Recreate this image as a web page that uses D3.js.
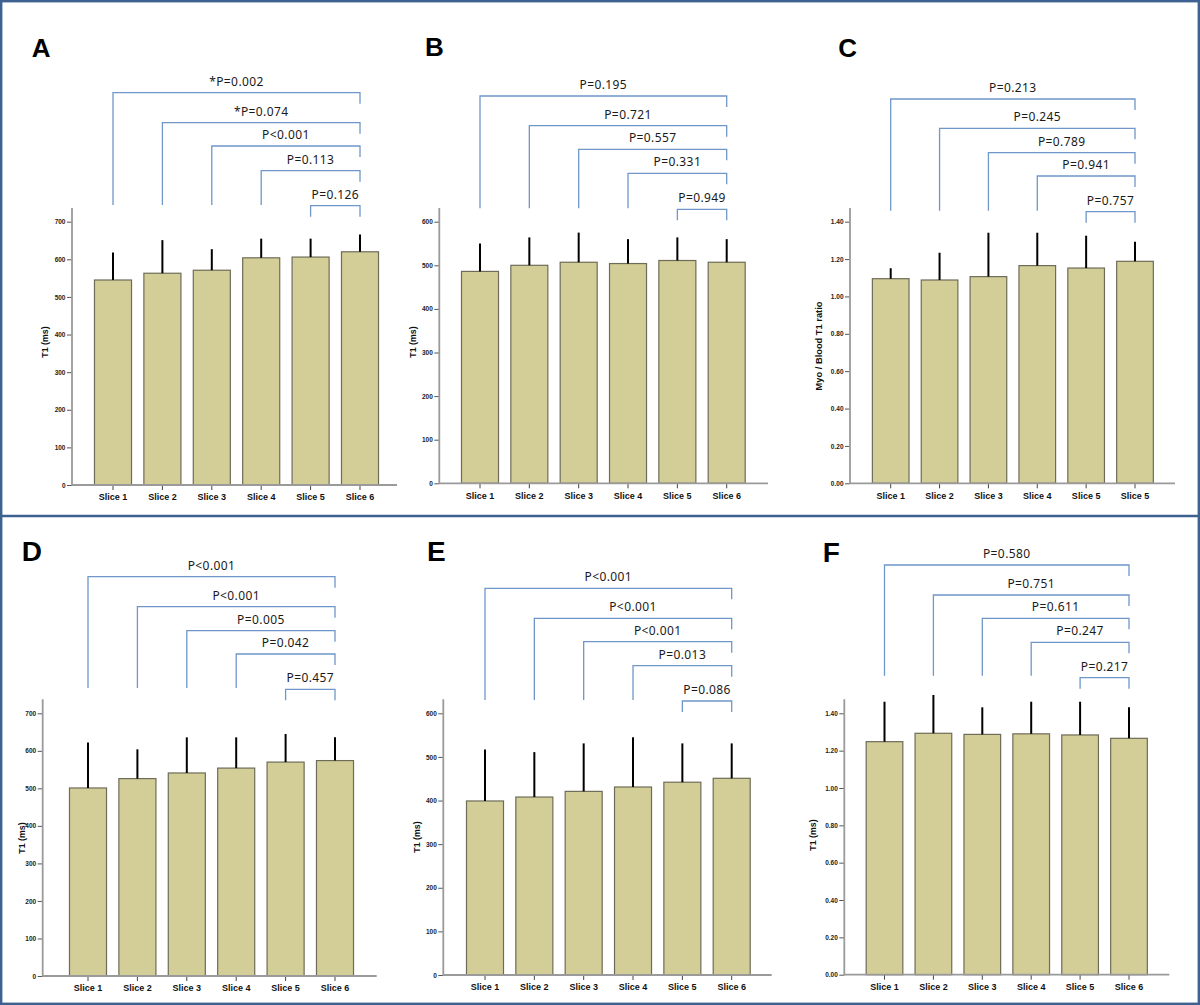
<!DOCTYPE html>
<html><head><meta charset="utf-8">
<script src="https://cdn.jsdelivr.net/npm/d3@7"></script>
<style>body{margin:0;background:#fff}</style>
</head><body>
<svg id="chart" width="1200" height="1005"></svg>
<script>
// ---------- data ----------
const slices  = ["Slice 1","Slice 2","Slice 3","Slice 4","Slice 5","Slice 6"];
const slicesC = ["Slice 1","Slice 2","Slice 3","Slice 4","Slice 5","Slice 5"];

const meanA = [545, 563, 571, 604, 606, 620];
const errA  = [73, 88, 56, 51, 49, 46];
const meanB = [486, 500, 507, 504, 511, 507];
const errB  = [64, 64, 68, 56, 53, 53];
const meanC = [1.095, 1.088, 1.106, 1.165, 1.152, 1.188];
const errC  = [0.056, 0.146, 0.235, 0.176, 0.173, 0.105];
const meanD = [501, 526, 541, 554, 570, 574];
const errD  = [121, 78, 95, 82, 75, 62];
const meanE = [399, 408, 421, 431, 442, 451];
const errE  = [118, 103, 110, 114, 89, 80];
const meanF = [1.248, 1.293, 1.287, 1.290, 1.284, 1.266];
const errF  = [0.214, 0.205, 0.145, 0.172, 0.178, 0.166];

const pA = ["*P=0.002","*P=0.074","P<0.001","P=0.113","P=0.126"];
const pB = ["P=0.195","P=0.721","P=0.557","P=0.331","P=0.949"];
const pC = ["P=0.213","P=0.245","P=0.789","P=0.941","P=0.757"];
const pD = ["P<0.001","P<0.001","P=0.005","P=0.042","P=0.457"];
const pE = ["P<0.001","P<0.001","P<0.001","P=0.013","P=0.086"];
const pF = ["P=0.580","P=0.751","P=0.611","P=0.247","P=0.217"];
const pairs = [[0,5],[1,5],[2,5],[3,5],[4,5]];

const ticks700   = [0,100,200,300,400,500,600,700];
const ticks600   = [0,100,200,300,400,500,600];
const ticksRatio = [0,0.2,0.4,0.6,0.8,1.0,1.2,1.4];

// ---------- layout (pixel geometry, separate from data) ----------
const fmtInt = d3.format("d"), fmtRatio = d3.format(".2f");
const panels = [
 {letter:"A", labels:slices,  mean:meanA, err:errA, p:pA, ticks:ticks700,   fmt:fmtInt,   title:"T1 (ms)",
  lx:31.7, ly:56.7, ls:26, ax:72,    xEnd:397,    y0:485,   yTop:221.7, axisTop:208,   c0:113,   c5:360,  tx:45,    ty:342,
  br:[92.7,122.7,146,170.7,205.7], leftEnd:205},
 {letter:"B", labels:slices,  mean:meanB, err:errB, p:pB, ticks:ticks600,   fmt:fmtInt,   title:"T1 (ms)",
  lx:425,  ly:56,   ls:26, ax:439.3, xEnd:768,    y0:483.3, yTop:221.7, axisTop:208,   c0:480,   c5:726.7, tx:412.7, ty:342,
  br:[96,125.7,149.3,173.3,209.3], leftEnd:208.3},
 {letter:"C", labels:slicesC, mean:meanC, err:errC, p:pC, ticks:ticksRatio, fmt:fmtRatio, title:"Myo / Blood T1 ratio",
  lx:838.3,ly:56.7, ls:26, ax:850,   xEnd:1175,   y0:483.3, yTop:221.7, axisTop:208,   c0:890.7, c5:1135, tx:819,   ty:346,
  br:[99,128.3,152.7,176,211.7], leftEnd:210.7},
 {letter:"D", labels:slices,  mean:meanD, err:errD, p:pD, ticks:ticks700,   fmt:fmtInt,   title:"T1 (ms)",
  lx:21.7, ly:561,  ls:28, ax:42.7,  xEnd:376.7,  y0:976,   yTop:713.3, axisTop:699.3, c0:88,    c5:335,  tx:21.7,  ty:838,
  br:[576.7,606.7,630.7,654,689.3], leftEnd:688},
 {letter:"E", labels:slices,  mean:meanE, err:errE, p:pE, ticks:ticks600,   fmt:fmtInt,   title:"T1 (ms)",
  lx:427,  ly:561,  ls:28, ax:443.3, xEnd:771.7,  y0:975,   yTop:713.3, axisTop:699.3, c0:485,   c5:731.7, tx:416.7, ty:837,
  br:[588.3,618.3,641.7,665.7,701], leftEnd:700},
 {letter:"F", labels:slices,  mean:meanF, err:errF, p:pF, ticks:ticksRatio, fmt:fmtRatio, title:"T1 (ms)",
  lx:822.7,ly:562.3,ls:28, ax:844.3, xEnd:1169.3, y0:974.7, yTop:713.3, axisTop:699.3, c0:884.5, c5:1129, tx:813.3, ty:835,
  br:[565,595,618.3,642.3,677.7], leftEnd:675.7}
];

const BAR_FILL = "#d3ce97", BAR_STROKE = "#6e6c58", AXIS = "#9a9a9a",
      BRACKET = "#6f97c9", FRAME = "#3d6190";
const SANS = "'Liberation Sans', Arial, sans-serif";

const svg = d3.select("#chart");
svg.append("rect").attr("width",1200).attr("height",1005).attr("fill","#fff");

panels.forEach(P => {
  const g = svg.append("g");
  const n = P.mean.length;
  const step = (P.c5 - P.c0) / (n - 1);
  const x = d3.scaleBand().domain(d3.range(n))
      .range([P.c0 - step/2, P.c5 + step/2]).paddingInner(0.25).paddingOuter(0.125);
  const y = d3.scaleLinear().domain([0, d3.max(P.ticks)]).range([P.y0, P.yTop]);
  const cx = i => x(i) + x.bandwidth()/2;

  // panel letter
  g.append("text").attr("x",P.lx).attr("y",P.ly).text(P.letter)
    .attr("font-family",SANS).attr("font-weight","bold").attr("font-size",P.ls).attr("fill","#000");

  // bars
  g.selectAll("rect.bar").data(P.mean).join("rect").attr("class","bar")
    .attr("x",(d,i)=>x(i)).attr("width",x.bandwidth())
    .attr("y",d=>y(d)).attr("height",d=>P.y0 - y(d))
    .attr("fill",BAR_FILL).attr("stroke",BAR_STROKE).attr("stroke-width",1.2);

  // error bars (upper only)
  g.selectAll("line.err").data(P.mean).join("line").attr("class","err")
    .attr("x1",(d,i)=>cx(i)).attr("x2",(d,i)=>cx(i))
    .attr("y1",d=>y(d)).attr("y2",(d,i)=>y(d + P.err[i]))
    .attr("stroke","#000").attr("stroke-width",2);

  // axes
  const ya = g.append("g").attr("transform",`translate(${P.ax},0)`)
    .call(d3.axisLeft(y).tickValues(P.ticks).tickFormat(P.fmt).tickSize(5).tickPadding(1.5));
  ya.select(".domain").remove();
  ya.selectAll(".tick line").attr("stroke","#555");
  ya.selectAll(".tick text").attr("font-family",SANS).attr("font-weight","bold")
    .attr("font-size",6.5).attr("fill","#222");

  const xa = g.append("g").attr("transform",`translate(0,${P.y0})`)
    .call(d3.axisBottom(x).tickFormat(i=>P.labels[i]).tickSize(5).tickPadding(4));
  xa.select(".domain").remove();
  xa.selectAll(".tick line").attr("stroke","#444");
  xa.selectAll(".tick text").attr("font-family",SANS).attr("font-weight","bold")
    .attr("font-size",9).attr("fill","#111");

  g.append("line").attr("x1",P.ax).attr("x2",P.ax).attr("y1",P.y0+0.8).attr("y2",P.axisTop)
    .attr("stroke",AXIS).attr("stroke-width",1.8);
  g.append("line").attr("x1",P.ax).attr("x2",P.xEnd).attr("y1",P.y0).attr("y2",P.y0)
    .attr("stroke",AXIS).attr("stroke-width",1.8);

  // y-axis title
  g.append("text").attr("transform",`translate(${P.tx},${P.ty}) rotate(-90)`)
    .attr("text-anchor","middle").attr("dy","0.35em").text(P.title)
    .attr("font-family",SANS).attr("font-weight","bold").attr("font-size",P.title.length>10?9.3:8.8)
    .attr("fill","#111");

  // significance brackets
  pairs.forEach((pr, k) => {
    const xl = cx(pr[0]), xr = cx(pr[1]), yb = P.br[k];
    const last = k === pairs.length - 1;
    const yl = last ? yb + 11 : P.leftEnd;
    const yr = yb + 11;
    g.append("path")
      .attr("d", `M${xl},${yl}V${yb}H${xr}V${yr}`)
      .attr("fill","none").attr("stroke",BRACKET).attr("stroke-width",1.3);
    g.append("text").attr("x",(xl+xr)/2).attr("y",yb-7)
      .attr("text-anchor","middle").text(P.p[k])
      .attr("font-family","'Noto Sans', 'Open Sans', sans-serif").attr("font-size",12)
      .attr("letter-spacing",0.4).attr("fill","#1a1a1a");
  });
});

// outer frame & divider
svg.append("rect").attr("x",1.2).attr("y",1.2).attr("width",1197.6).attr("height",1002.6)
  .attr("fill","none").attr("stroke",FRAME).attr("stroke-width",2.4);
svg.append("line").attr("x1",0).attr("x2",1200).attr("y1",516).attr("y2",516)
  .attr("stroke",FRAME).attr("stroke-width",2.4);
</script>
</body></html>
